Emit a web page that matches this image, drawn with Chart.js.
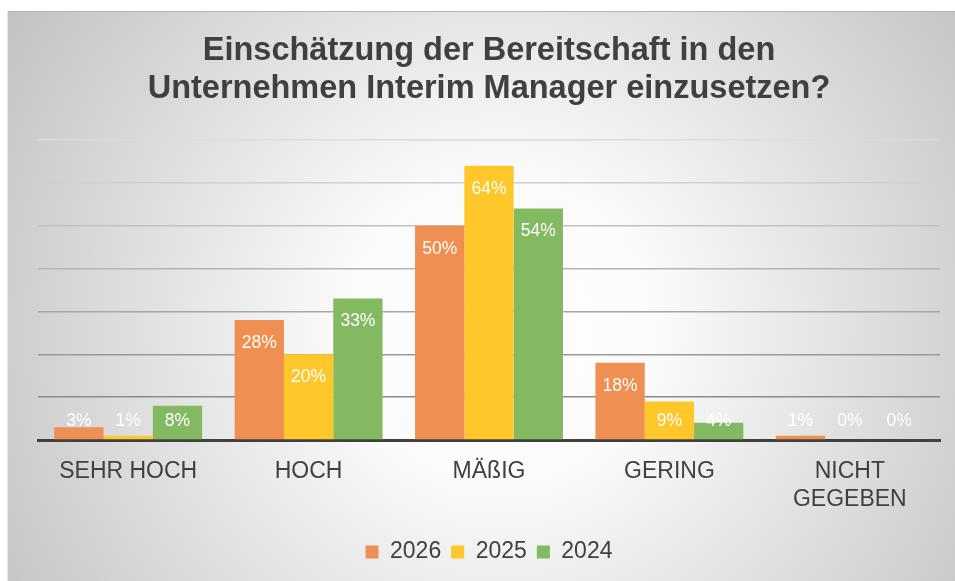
<!DOCTYPE html>
<html><head><meta charset="utf-8">
<script src="https://cdn.jsdelivr.net/npm/chart.js@4/dist/chart.umd.min.js"></script>
<style>html,body{margin:0;padding:0;background:#fff;overflow:hidden;} #wrap{width:955px;height:581px;position:relative;}</style>
</head><body><div id="wrap"><canvas id="c" width="955" height="581"></canvas></div>
<script>
const categories = ['SEHR HOCH', 'HOCH', 'MÄßIG', 'GERING', ['NICHT', 'GEGEBEN']];
const seriesNames = ['2026', '2025', '2024'];
const values2026 = [3, 28, 50, 18, 1];
const values2025 = [1, 20, 64, 9, 0];
const values2024 = [8, 33, 54, 4, 0];
const titleLines = ['Einschätzung der Bereitschaft in den', 'Unternehmen Interim Manager einzusetzen?'];
const yMin = 0, yMax = 70, yStep = 10;

const FONT = "'Liberation Sans', Arial, Helvetica, sans-serif";
const TEXT = '#404040';

const bgPlugin = {
  id: 'bg',
  beforeDraw(chart) {
    const ctx = chart.ctx;
    ctx.save();
    ctx.fillStyle = '#ffffff';
    ctx.fillRect(0, 0, chart.width, chart.height);
    const g = ctx.createRadialGradient(500, 330, 0, 500, 330, 600);
    g.addColorStop(0, '#ffffff');
    g.addColorStop(0.25, '#fbfbfb');
    g.addColorStop(1, '#c0c0c0');
    ctx.fillStyle = g;
    ctx.fillRect(7, 11, chart.width - 7, chart.height - 11);
    ctx.strokeStyle = '#b4b4b4';
    ctx.lineWidth = 1;
    ctx.beginPath();
    ctx.moveTo(7, 11.5); ctx.lineTo(chart.width, 11.5);
    ctx.stroke();
    ctx.strokeStyle = '#e4e4e4';
    ctx.beginPath();
    ctx.moveTo(7.5, 11); ctx.lineTo(7.5, chart.height);
    ctx.stroke();
    ctx.restore();
  }
};

const labelPlugin = {
  id: 'barLabels',
  afterDatasetsDraw(chart) {
    const ctx = chart.ctx;
    const base = chart.scales.y.getPixelForValue(0);
    ctx.save();
    ctx.font = '17.5px ' + FONT;
    ctx.fillStyle = '#ffffff';
    ctx.textAlign = 'center';
    ctx.textBaseline = 'middle';
    chart.data.datasets.forEach((ds, i) => {
      const meta = chart.getDatasetMeta(i);
      meta.data.forEach((bar, j) => {
        const y = Math.min(bar.y + 23, base - 19);
        ctx.fillText(ds.data[j] + '%', bar.x, y);
      });
    });
    ctx.restore();
  }
};

function gridColor(v) {
  if (v <= 0) return 'rgba(0,0,0,0)';
  const t = (v - 10) / 60;
  const c = Math.round(0x8c + (0xdc - 0x8c) * t);
  return `rgb(${c},${c},${c})`;
}

new Chart(document.getElementById('c'), {
  type: 'bar',
  data: {
    labels: categories,
    datasets: [
      { label: seriesNames[0], data: values2026, backgroundColor: '#EF8F51' },
      { label: seriesNames[1], data: values2025, backgroundColor: '#FFC729' },
      { label: seriesNames[2], data: values2024, backgroundColor: '#83B961' }
    ]
  },
  options: {
    responsive: false,
    animation: false,
    devicePixelRatio: 1,
    layout: { padding: { top: 11, left: 38, right: 15, bottom: 7.5 } },
    datasets: { bar: { categoryPercentage: 0.82, barPercentage: 1.0 } },
    plugins: {
      title: {
        display: true,
        text: titleLines,
        color: TEXT,
        font: { family: FONT, size: 32.5, weight: 'bold', lineHeight: 1.17 },
        padding: { top: 21, bottom: 32 }
      },
      legend: {
        display: true,
        position: 'bottom',
        labels: {
          color: TEXT,
          boxWidth: 13,
          boxHeight: 13,
          padding: 10,
          font: { family: FONT, size: 23 }
        }
      },
      tooltip: { enabled: false }
    },
    scales: {
      x: {
        grid: { display: false, drawTicks: false },
        border: { display: true, color: '#404040', width: 3 },
        ticks: { color: TEXT, padding: 18, font: { family: FONT, size: 23, lineHeight: 1.2 }, maxRotation: 0, autoSkip: false },
        afterFit(scale) { scale.height = 90.5; }
      },
      y: {
        min: yMin,
        max: yMax,
        ticks: { display: false, stepSize: yStep },
        grid: { drawTicks: false, lineWidth: 1.5, color: (c) => gridColor(c.tick ? c.tick.value : 0) },
        border: { display: false }
      }
    }
  },
  plugins: [bgPlugin, labelPlugin]
});
</script>
</body></html>
